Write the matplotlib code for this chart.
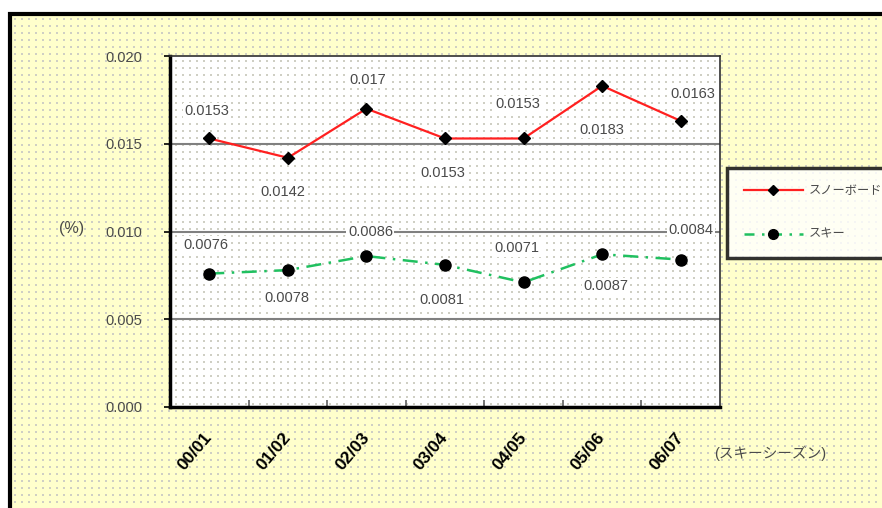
import numpy as np
import matplotlib
matplotlib.use("Agg")
import matplotlib.pyplot as plt
from matplotlib.patches import Rectangle
from matplotlib.lines import Line2D

plt.rcParams['font.family'] = ['Liberation Sans', 'Noto Sans CJK JP', 'DejaVu Sans']

# datos
seasons = ['00/01', '01/02', '02/03', '03/04', '04/05', '05/06', '06/07']
snowboard = [0.0153, 0.0142, 0.0170, 0.0153, 0.0153, 0.0183, 0.0163]
ski = [0.0076, 0.0078, 0.0086, 0.0081, 0.0071, 0.0087, 0.0084]
snowboard_labels = ['0.0153', '0.0142', '0.017', '0.0153', '0.0153', '0.0183', '0.0163']
ski_labels = ['0.0076', '0.0078', '0.0086', '0.0081', '0.0071', '0.0087', '0.0084']
series_names = ['スノーボード', 'スキー']

# desplazamiento de las etiquetas (pixeles)
sb_off = [(-2, 27), (-5, -34), (1, 29), (-2, -35), (-6, 34), (0, -44), (12, 27)]
ski_off = [(-3, 29), (-1, -28), (4, 24), (-3, -35), (-7, 34), (4, -32), (10, 30)]

W, H = 882, 508
fig = plt.figure(figsize=(W / 100, H / 100), dpi=100)
fig.patch.set_facecolor('white')

# fondo con marco y puntos
bg = fig.add_axes([0, 0, 1, 1], zorder=-1)
bg.set_xlim(0, W)
bg.set_ylim(H, 0)
bg.axis('off')
bg.add_patch(Rectangle((10, 14), W + 20, H + 20, facecolor='#FFFFCC',
                       edgecolor='black', linewidth=3))
bg.add_patch(Rectangle((170, 56), 550, 351, facecolor='white', edgecolor='none'))
gx, gy = np.meshgrid(np.arange(15, W, 7), np.arange(19, H, 7))
bg.scatter(gx.ravel(), gy.ravel(), s=1.3, marker='s', color='#cfcfc4', linewidths=0)

ax = fig.add_axes([170 / W, 1 - 407 / H, 550 / W, 351 / H])
ax.patch.set_alpha(0)
x = np.arange(len(seasons))

for yv in [0.005, 0.010, 0.015]:
    ax.axhline(yv, color='#808080', linewidth=1.5, zorder=1)

ax.plot(x, snowboard, color='#ff2020', linewidth=1.6, marker='D', markersize=6,
        markerfacecolor='black', markeredgecolor='black', zorder=3)
ax.plot(x, ski, color='#20c060', linewidth=1.8, linestyle=(0, (6, 3, 1, 3)),
        marker='o', markersize=8, markerfacecolor='black', markeredgecolor='black', zorder=3)

for i in range(len(seasons)):
    ax.annotate(snowboard_labels[i], (x[i], snowboard[i]), xytext=sb_off[i],
                textcoords='offset pixels', ha='center', va='center',
                fontsize=10.5, color='#4a4a4a', zorder=4,
                bbox=dict(facecolor='white', edgecolor='none', pad=1))
    ax.annotate(ski_labels[i], (x[i], ski[i]), xytext=ski_off[i],
                textcoords='offset pixels', ha='center', va='center',
                fontsize=10.5, color='#4a4a4a', zorder=4,
                bbox=dict(facecolor='white', edgecolor='none', pad=1))

ax.set_xlim(-0.5, 6.5)
ax.set_ylim(0, 0.020)
ax.set_yticks([0.000, 0.005, 0.010, 0.015, 0.020])
ax.set_yticklabels(['0.000', '0.005', '0.010', '0.015', '0.020'])
ax.tick_params(axis='y', direction='out', length=4, width=1.2, pad=16,
               labelsize=10.5, labelcolor='#4a4a4a')

ax.set_xticks(x)
ax.set_xticklabels(seasons, rotation=50, ha='right', va='center',
                   rotation_mode='anchor', fontweight='bold', fontsize=12.5)
ax.set_xticks(x[:-1] + 0.5, minor=True)
ax.tick_params(axis='x', which='major', length=0, pad=20)
ax.tick_params(axis='x', which='minor', direction='in', length=5, width=1.2, color='#606060')

for s in ['left', 'bottom']:
    ax.spines[s].set_linewidth(2.5)
for s in ['top', 'right']:
    ax.spines[s].set_linewidth(1.2)
    ax.spines[s].set_color('#303030')

fig.text(72 / W, 1 - 229 / H, '(%)', ha='center', va='center', fontsize=11.5, color='#4a4a4a')
fig.text(770 / W, 1 - 453 / H, '(スキーシーズン)', ha='center', va='center',
         fontsize=10.5, color='#4a4a4a')

# leyenda
handles = [Line2D([], [], color='#ff2020', linewidth=1.6, marker='D', markersize=5,
                  markerfacecolor='black', markeredgecolor='black'),
           Line2D([], [], color='#20c060', linewidth=1.8, linestyle=(0, (4, 3, 1, 3)),
                  marker='o', markersize=7, markerfacecolor='black', markeredgecolor='black')]
leg = fig.legend(handles, series_names, loc='upper left',
                 bbox_to_anchor=(727 / W, 1 - 168 / H), bbox_transform=fig.transFigure,
                 borderaxespad=0, fancybox=False, handlelength=4.8, labelspacing=2.6,
                 fontsize=8.8, borderpad=1.4, handletextpad=0.5)
leg.get_frame().set_edgecolor('black')
leg.get_frame().set_linewidth(2.5)
for t in leg.get_texts():
    t.set_color('#4a4a4a')

plt.savefig('out.png', dpi=100)
